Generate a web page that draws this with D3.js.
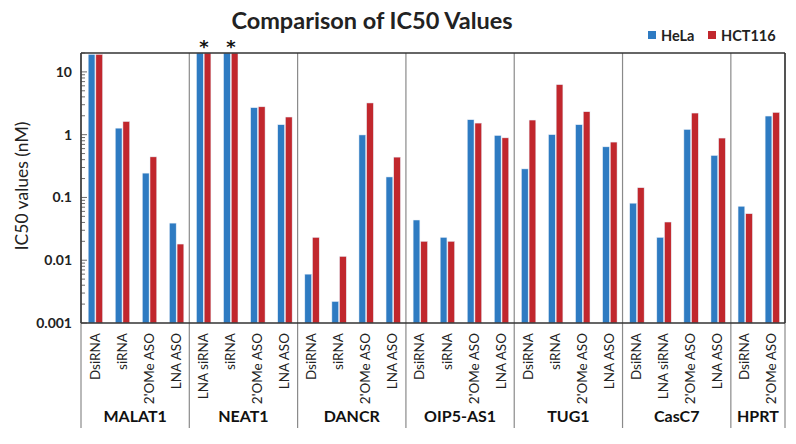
<!DOCTYPE html>
<html><head><meta charset="utf-8">
<script src="https://cdn.jsdelivr.net/npm/d3@7"></script>
<style>body{margin:0;background:#fff;} svg{display:block;font-family:Lato,"Open Sans",sans-serif;}</style>
</head><body><svg id="c" width="796" height="444"></svg>
<script>
const groups = ["MALAT1","NEAT1","DANCR","OIP5-AS1","TUG1","CasC7","HPRT"];
const groupOf = ["MALAT1","MALAT1","MALAT1","MALAT1","NEAT1","NEAT1","NEAT1","NEAT1","DANCR","DANCR","DANCR","DANCR","OIP5-AS1","OIP5-AS1","OIP5-AS1","OIP5-AS1","TUG1","TUG1","TUG1","TUG1","CasC7","CasC7","CasC7","CasC7","HPRT","HPRT"];
const methods = ["DsiRNA","siRNA","2'OMe ASO","LNA ASO","LNA siRNA","siRNA","2'OMe ASO","LNA ASO","DsiRNA","siRNA","2'OMe ASO","LNA ASO","DsiRNA","siRNA","2'OMe ASO","LNA ASO","DsiRNA","siRNA","2'OMe ASO","LNA ASO","DsiRNA","LNA siRNA","2'OMe ASO","LNA ASO","DsiRNA","2'OMe ASO"];
const hela   = [19,1.27,0.244,0.039, 20,20,2.69,1.44, 0.006,0.0022,0.99,0.212, 0.0437,0.0231,1.73,0.97, 0.285,1.0,1.44,0.64, 0.081,0.0231,1.21,0.466, 0.0724,1.98];
const hct116 = [19,1.62,0.443,0.0181, 20,20,2.78,1.91, 0.0231,0.0115,3.2,0.439, 0.02,0.02,1.53,0.89, 1.71,6.27,2.32,0.762, 0.143,0.0406,2.21,0.883, 0.0551,2.26];
const starred = [4,5];
const series = ["HeLa","HCT116"];
const colors = ["#2E7BC2","#C1272D"];
const yTicks = [0.001,0.01,0.1,1,10];
const yTickLabels = ["0.001","0.01","0.1","1","10"];

const svg = d3.select("#c");
const L=81, R=785, T=53, B=323, EXT=428;
const idx = d3.range(methods.length);
const x = d3.scaleBand().domain(idx).range([L,R]).padding(0);
const x1 = d3.scaleBand().domain(series).range([7.2,21.6]).paddingInner(0.12);
const y = d3.scaleLog().domain([0.001,20]).range([B,T]);

// bars
const vals=[hela,hct116];
series.forEach((s,si)=>{
  svg.append("g").selectAll("rect").data(idx).join("rect")
    .attr("x",i=>x(i)+x1(s)).attr("width",x1.bandwidth())
    .attr("y",i=>y(vals[si][i])).attr("height",i=>B-y(vals[si][i]))
    .attr("fill",colors[si]).attr("stroke","#e6eef7").attr("stroke-width",0.5);
});

// group separators
const bounds=[];
groups.forEach(g=>{const first=groupOf.indexOf(g), last=groupOf.lastIndexOf(g);bounds.push({g,x0:x(first),x1:x(last)+x.bandwidth()});});
const sepX=[L].concat(bounds.map(b=>b.x1));
svg.append("g").selectAll("line").data(sepX).join("line")
  .attr("x1",d=>d).attr("x2",d=>d).attr("y1",T).attr("y2",EXT)
  .attr("stroke","#8a8a8a").attr("stroke-width",1.2);
// frame
svg.append("line").attr("x1",L).attr("x2",R).attr("y1",T).attr("y2",T).attr("stroke","#333").attr("stroke-width",1.5);
svg.append("line").attr("x1",L).attr("x2",R).attr("y1",B).attr("y2",B).attr("stroke","#333").attr("stroke-width",1.5);
svg.append("line").attr("x1",L).attr("x2",L).attr("y1",T).attr("y2",B).attr("stroke","#333").attr("stroke-width",1.5);
svg.append("line").attr("x1",R).attr("x2",R).attr("y1",T).attr("y2",B).attr("stroke","#333").attr("stroke-width",1.5);

// y axis
const minor=[];
for(let e=-3;e<=1;e++){for(let m=2;m<=9;m++){const v=m*Math.pow(10,e); if(v<=20) minor.push(v);}}
const ax = d3.axisLeft(y).tickValues(yTicks).tickFormat((d,i)=>yTickLabels[i]).tickSize(0).tickPadding(9);
const gy = svg.append("g").attr("transform",`translate(${L},0)`).call(ax);
gy.select(".domain").remove();
gy.selectAll("text").attr("font-size",14).attr("font-weight","bold").attr("fill","#222").attr("font-family","Lato,sans-serif");
svg.append("g").selectAll("line").data(minor).join("line")
  .attr("x1",L).attr("x2",L+4).attr("y1",d=>y(d)).attr("y2",d=>y(d)).attr("stroke","#444").attr("stroke-width",0.8);
svg.append("g").selectAll("line").data(yTicks).join("line")
  .attr("x1",L).attr("x2",L+6).attr("y1",d=>y(d)).attr("y2",d=>y(d)).attr("stroke","#444").attr("stroke-width",0.8);

// y title
svg.append("text").attr("transform","translate(28,186) rotate(-90)").attr("text-anchor","middle")
  .attr("font-size",17.5).attr("fill","#222").text("IC50 values (nM)");

// x category labels
svg.append("g").selectAll("text").data(idx).join("text")
  .attr("transform",i=>`translate(${x(i)+x.bandwidth()/2+5},333) rotate(-90)`)
  .attr("text-anchor","end").attr("font-size",13.5).attr("fill","#222").text(i=>methods[i]);
// group labels
svg.append("g").selectAll("text").data(bounds).join("text")
  .attr("x",b=>(b.x0+b.x1)/2).attr("y",422).attr("text-anchor","middle")
  .attr("font-size",16).attr("font-weight","bold").attr("fill","#111").text(b=>b.g);

// asterisks
svg.append("g").selectAll("text").data(starred).join("text")
  .attr("x",i=>x(i)+x.bandwidth()/2+1).attr("y",53).attr("text-anchor","middle")
  .attr("font-family","DejaVu Sans,sans-serif")
  .attr("font-size",18).attr("font-weight","bold").attr("fill","#111").text("*");

// title
svg.append("text").attr("x",372).attr("y",29).attr("text-anchor","middle")
  .attr("font-size",23.5).attr("font-weight","bold").attr("fill","#222").text("Comparison of IC50 Values");

// legend
const lx=[648,708];
series.forEach((s,i)=>{
  svg.append("rect").attr("x",lx[i]).attr("y",31).attr("width",8).attr("height",8).attr("fill",colors[i]);
  svg.append("text").attr("x",lx[i]+13).attr("y",40.5).attr("font-size",14.5).attr("font-weight","bold").attr("fill","#222").text(s);
});
</script></body></html>
